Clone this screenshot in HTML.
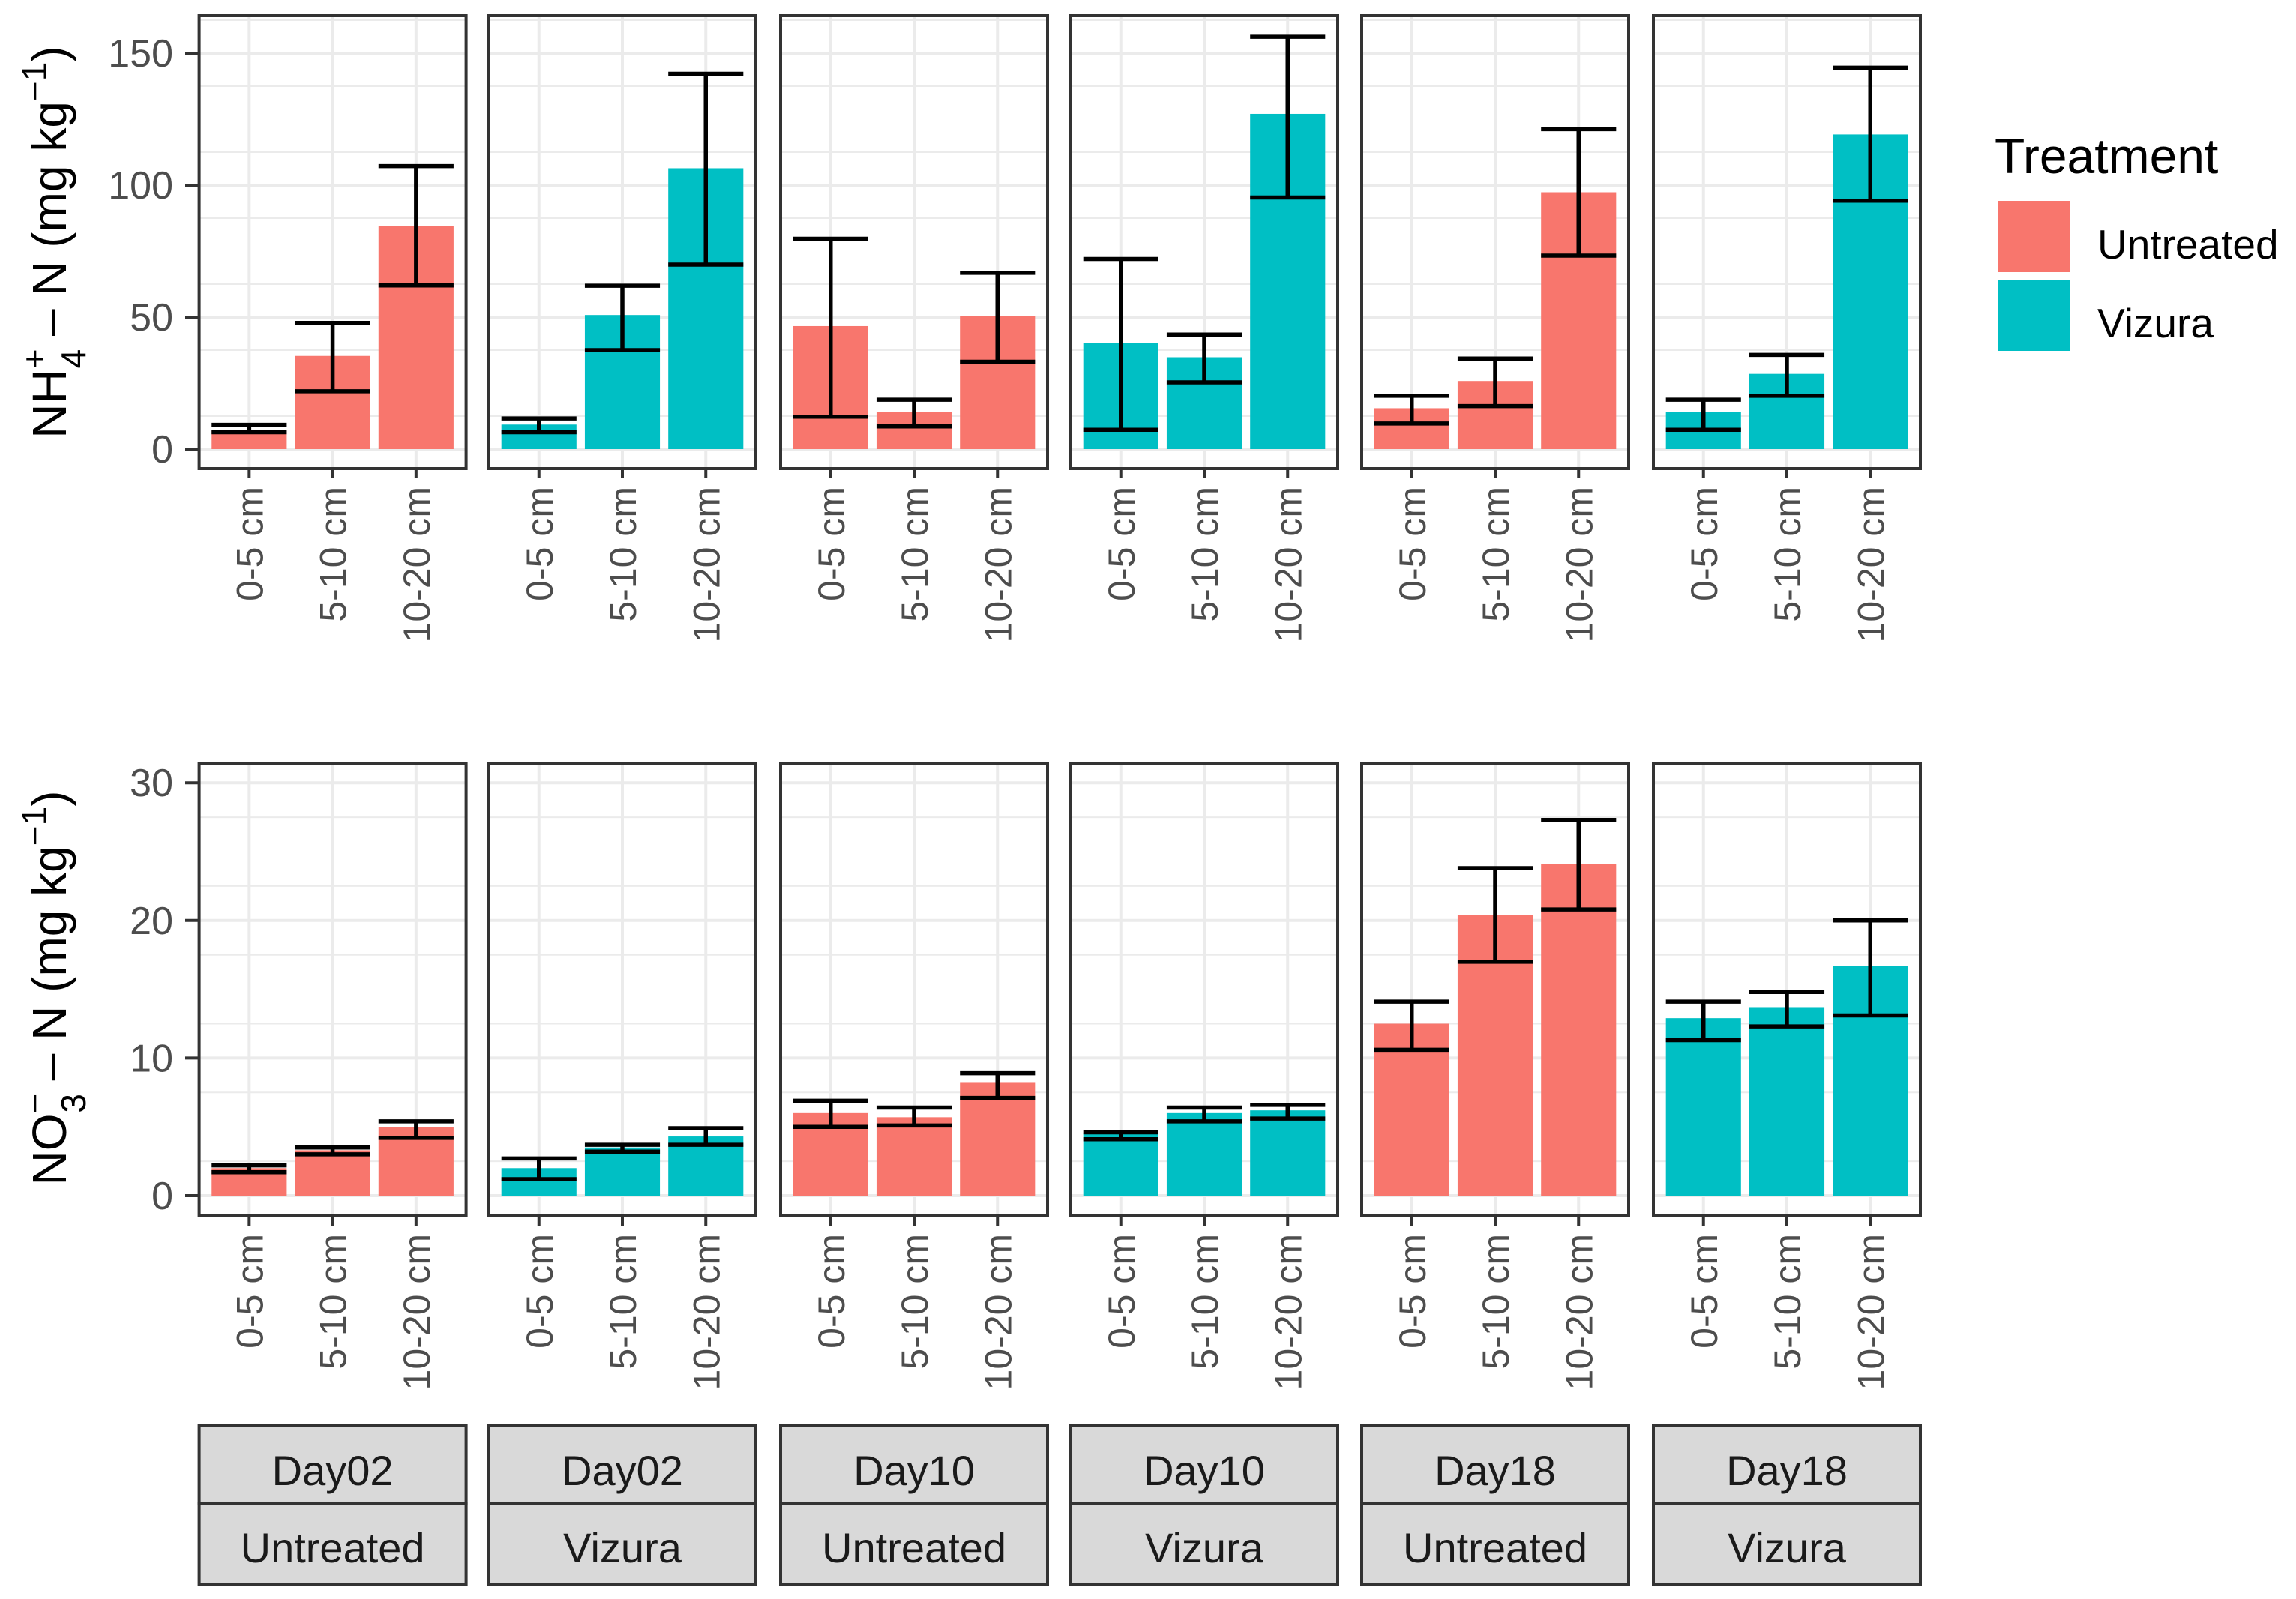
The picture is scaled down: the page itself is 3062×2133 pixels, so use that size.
<!DOCTYPE html>
<html><head><meta charset="utf-8"><style>
body{margin:0;background:#fff}
svg{display:block;font-family:"Liberation Sans",sans-serif}
</style></head><body>
<svg id="chart" width="3062" height="2133" viewBox="0 0 3062 2133" xmlns="http://www.w3.org/2000/svg">
<g id="content"></g>
<text transform="translate(88,323) rotate(-90)" text-anchor="middle" font-size="64" fill="#000">NH<tspan font-size="46" baseline-shift="super">+</tspan><tspan font-size="46" dx="-26" baseline-shift="sub">4</tspan> – N (mg kg<tspan font-size="46" baseline-shift="super">−1</tspan>)</text>
<text transform="translate(88,1318) rotate(-90)" text-anchor="middle" font-size="64" fill="#000">NO<tspan font-size="46" baseline-shift="super">−</tspan><tspan font-size="46" dx="-26" baseline-shift="sub">3</tspan> – N (mg kg<tspan font-size="46" baseline-shift="super">−1</tspan>)</text>
<g>
<text x="2660" y="231" font-size="66" fill="#000">Treatment</text>
<rect x="2664" y="268" width="96" height="95" fill="#F8766D"/>
<rect x="2664" y="373" width="96" height="95" fill="#00BFC4"/>
<text x="2797" y="345" font-size="55" fill="#000">Untreated</text>
<text x="2797" y="450" font-size="55" fill="#000">Vizura</text>
</g>
</svg>
<script>
const categories = ["0-5 cm","5-10 cm","10-20 cm"];
const days = ["Day02","Day02","Day10","Day10","Day18","Day18"];
const treatments = ["Untreated","Vizura","Untreated","Vizura","Untreated","Vizura"];
const nh4Mean = [[7.0,35.3,84.5],[9.3,50.8,106.4],[46.6,14.2,50.5],[40.1,34.8,127.0],[15.5,25.8,97.3],[14.2,28.5,119.2]];
const nh4Lo = [[6.4,21.9,62.0],[6.4,37.5,69.9],[12.3,8.6,33.1],[7.3,25.3,95.3],[9.7,16.3,73.3],[7.3,20.2,94.1]];
const nh4Hi = [[9.2,47.8,107.2],[11.6,61.9,142.2],[79.7,18.7,66.8],[72.0,43.4,156.2],[20.2,34.3,121.2],[18.7,35.7,144.5]];
const no3Mean = [[2.0,3.3,5.0],[2.0,3.5,4.3],[6.0,5.7,8.2],[4.5,6.0,6.2],[12.5,20.4,24.1],[12.9,13.7,16.7]];
const no3Lo = [[1.7,3.0,4.2],[1.2,3.2,3.7],[5.0,5.1,7.1],[4.1,5.4,5.6],[10.6,17.0,20.8],[11.3,12.3,13.1]];
const no3Hi = [[2.2,3.5,5.4],[2.7,3.7,4.9],[6.9,6.4,8.9],[4.6,6.4,6.6],[14.1,23.8,27.3],[14.1,14.8,20.0]];
const nh4Ticks = [0,50,100,150];
const no3Ticks = [0,10,20,30];

const NS="http://www.w3.org/2000/svg";
const root=document.getElementById('content');
function mk(tag,attrs,parent){const e=document.createElementNS(NS,tag);for(const k in attrs)e.setAttribute(k,attrs[k]);(parent||root).appendChild(e);return e;}
const panelLeft=[265.6,652,1041,1428,1816,2205], PW=356;
const colors={Untreated:"#F8766D",Vizura:"#00BFC4"};
const rows=[
 {name:"nh4",top:21,bottom:625,y0:599,per:3.52,ticks:nh4Ticks,minorStep:25,max:170,mean:nh4Mean,lo:nh4Lo,hi:nh4Hi},
 {name:"no3",top:1018,bottom:1622,y0:1595,per:18.36,ticks:no3Ticks,minorStep:5,max:32,mean:no3Mean,lo:no3Lo,hi:no3Hi}
];
rows.forEach(r=>{
 const ys=v=>r.y0-v*r.per;
 r.ticks.forEach(t=>{
  const tk=mk('line',{x1:247,x2:265,y1:ys(t),y2:ys(t),stroke:'#333','stroke-width':4});
  
  
  const tl=mk('text',{x:231,y:ys(t)+18,'text-anchor':'end','font-size':52,fill:'#4d4d4d'});
  tl.textContent=t;
  
  
 });
 panelLeft.forEach((L,p)=>{
  const g=mk('g',{});
  
  
  const unit=PW/3.2, xc=i=>L+unit*(0.6+i);
  for(let v=r.minorStep/2; v<r.max; v+=r.minorStep){
   if(ys(v)<r.top)break;
   mk('line',{x1:L,x2:L+PW,y1:ys(v),y2:ys(v),stroke:'#ebebeb','stroke-width':2},g);
  }
  r.ticks.forEach(t=>mk('line',{x1:L,x2:L+PW,y1:ys(t),y2:ys(t),stroke:'#ebebeb','stroke-width':4},g));
  categories.forEach((c,i)=>mk('line',{x1:xc(i),x2:xc(i),y1:r.top,y2:r.bottom,stroke:'#ebebeb','stroke-width':4},g));
  categories.forEach((c,i)=>{
   const v=r.mean[p][i], bw=unit*0.9;
   const b=mk('rect',{x:xc(i)-bw/2,y:ys(v),width:bw,height:v*r.per,fill:colors[treatments[p]]},g);
   
   
   const eb=mk('g',{stroke:'#000','stroke-width':5.5},g);
   
   
   mk('line',{x1:xc(i),x2:xc(i),y1:ys(r.lo[p][i]),y2:ys(r.hi[p][i])},eb);
   mk('line',{x1:xc(i)-bw/2,x2:xc(i)+bw/2,y1:ys(r.lo[p][i]),y2:ys(r.lo[p][i])},eb);
   mk('line',{x1:xc(i)-bw/2,x2:xc(i)+bw/2,y1:ys(r.hi[p][i]),y2:ys(r.hi[p][i])},eb);
   const tk=mk('line',{x1:xc(i),x2:xc(i),y1:r.bottom,y2:r.bottom+13,stroke:'#333','stroke-width':4},g);
   
   
   const tl=mk('text',{transform:`translate(${xc(i)+18},${r.bottom+24}) rotate(-90)`,'text-anchor':'end','font-size':50,fill:'#4d4d4d'},g);
   tl.textContent=c;
   
   
  });
  mk('rect',{x:L,y:r.top,width:PW,height:r.bottom-r.top,fill:'none',stroke:'#333','stroke-width':4},g);
 });
});
panelLeft.forEach((L,p)=>{
 const s1=mk('rect',{x:L,y:1901,width:PW,height:104,fill:'#d9d9d9',stroke:'#333','stroke-width':4});
 
 
 const s2=mk('rect',{x:L,y:2005,width:PW,height:108,fill:'#d9d9d9',stroke:'#333','stroke-width':4});
 
 
 const t1=mk('text',{x:L+PW/2,y:1981,'text-anchor':'middle','font-size':56,fill:'#1a1a1a'});
 t1.textContent=days[p];
 
 
 const t2=mk('text',{x:L+PW/2,y:2084,'text-anchor':'middle','font-size':56,fill:'#1a1a1a'});
 t2.textContent=treatments[p];
 
 
});
</script>
</body></html>
